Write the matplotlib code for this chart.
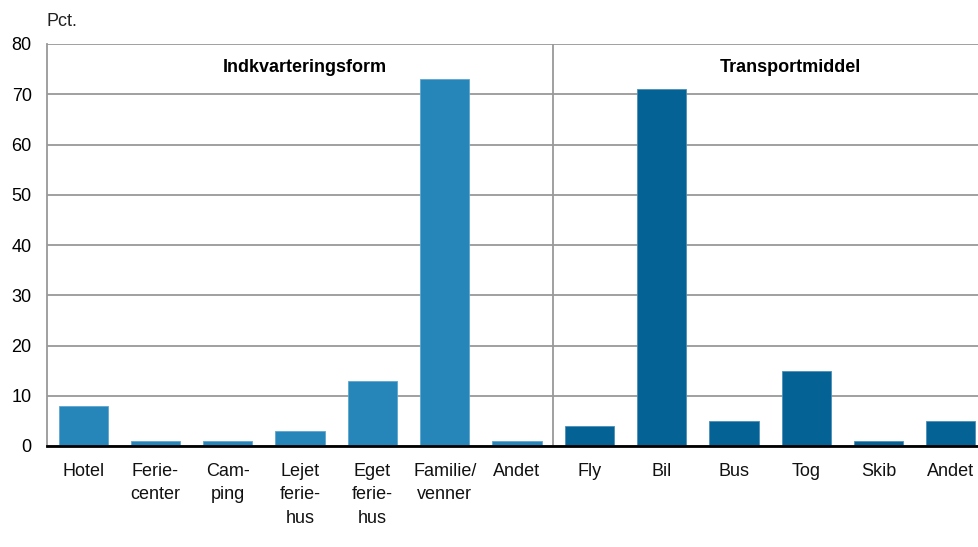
import matplotlib
matplotlib.use("Agg")
import matplotlib.pyplot as plt
import numpy as np

# Data
kategorier = ["Hotel", "Ferie-\ncenter", "Cam-\nping", "Lejet\nferie-\nhus", "Eget\nferie-\nhus",
              "Familie/\nvenner", "Andet",
              "Fly", "Bil", "Bus", "Tog", "Skib", "Andet"]
indkvartering = [8, 1, 1, 3, 13, 73, 1]
transport = [4, 71, 5, 15, 1, 5]
gruppe_titler = ["Indkvarteringsform", "Transportmiddel"]
y_ticks = [0, 10, 20, 30, 40, 50, 60, 70, 80]

plt.rcParams['font.family'] = ['Liberation Sans', 'DejaVu Sans']

fig = plt.figure(figsize=(9.79, 5.47), dpi=100)
ax = fig.add_axes([47/979, 1 - 446/547, 940/979, 402/547])

x1 = np.arange(len(indkvartering))
x2 = np.arange(len(transport)) + len(indkvartering)

ax.bar(x1, indkvartering, width=0.68, color="#2686BA", edgecolor="#5fa6cf", linewidth=0.6, zorder=3)
ax.bar(x2, transport, width=0.68, color="#046394", edgecolor="#4a8fb8", linewidth=0.6, zorder=3)

ax.set_xlim(-0.5, len(kategorier) - 0.5)
ax.set_ylim(0, 80)
ax.set_yticks(y_ticks)
ax.set_xticks(np.arange(len(kategorier)))
ax.set_xticklabels(kategorier, fontsize=13, color="#111111", linespacing=1.5)
ax.tick_params(axis="both", length=0, labelsize=13)
ax.tick_params(axis="x", pad=12)
ax.tick_params(axis="y", pad=11)

ax.grid(axis="y", color="#999999", linewidth=1.3, zorder=0)
ax.axvline(len(indkvartering) - 0.5, color="#999999", linewidth=1.3, zorder=1)

for s in ["top", "right"]:
    ax.spines[s].set_visible(False)
ax.spines["left"].set_color("#999999")
ax.spines["left"].set_linewidth(1.3)
ax.spines["bottom"].set_color("black")
ax.spines["bottom"].set_linewidth(2)
ax.spines["bottom"].set_zorder(4)

ax.text(3.07, 75.3, gruppe_titler[0], ha="center", va="center", fontsize=13, fontweight="bold")
ax.text(9.78, 75.3, gruppe_titler[1], ha="center", va="center", fontsize=13, fontweight="bold")

ax.text(0, 1.035, "Pct.", transform=ax.transAxes, ha="left", va="bottom", fontsize=13, color="#222222")

fig.savefig("out.png", dpi=100)
